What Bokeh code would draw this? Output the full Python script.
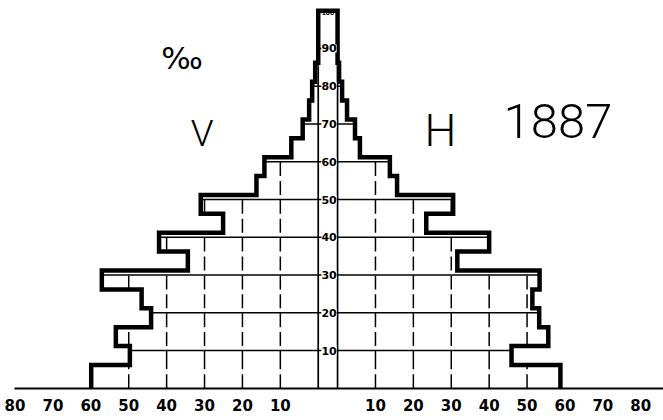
from bokeh.plotting import figure
from bokeh.models import Range1d, FixedTicker, CustomJSTickFormatter
from bokeh.core.properties import value
from bokeh.embed import file_html
from bokeh.resources import INLINE

# ---- data (per mille of population, 5-year age groups) ----
age_lo = [0, 5, 10, 15, 20, 25, 30, 35, 40, 45, 50, 55, 60, 65, 70, 75, 80, 85]
age_hi = [5, 10, 15, 20, 25, 30, 35, 40, 45, 50, 55, 60, 65, 70, 75, 80, 85, 100]
per_mille_V = [59.9, 49.7, 53.4, 44.1, 46.6, 57.1, 34.4, 42.0, 25.1, 31.0,
               16.3, 14.2, 7.1, 4.1, 2.4, 1.6, 0.8, 0.0]
per_mille_H = [58.8, 45.9, 55.6, 53.2, 51.4, 53.3, 31.6, 40.0, 23.4, 30.5,
               15.7, 13.8, 5.9, 4.6, 2.5, 1.2, 0.4, 0.0]
grid_ages = [10, 20, 30, 40, 50, 60, 70, 80, 90]
age_labels = ["10", "20", "30", "40", "50", "60", "70", "80", "90"]
grid_values = [10, 20, 30, 40, 50]
axis_values = [10, 20, 30, 40, 50, 60, 70, 80]

G = 2.55        # half width of the central age strip (in per-mille units)
SHIFT = 1.2     # thick outline is drawn just outside the bar tops (years)
TOP = 100

n = len(age_lo)
disp_lo = [0 if i == 0 else age_lo[i] + SHIFT for i in range(n)]
disp_hi = [TOP if i == n - 1 else age_hi[i] + SHIFT for i in range(n)]


def side_points(vals, sign):
    xs, ys = [], []
    for i, v in enumerate(vals):
        x = sign * (G + v)
        xs += [x, x]
        ys += [disp_lo[i], disp_hi[i]]
    return xs, ys


lx, ly = side_points(per_mille_V, -1)
rx, ry = side_points(per_mille_H, 1)
outline_x = lx + rx[::-1]
outline_y = ly + ry[::-1]


def bin_at(a):
    for i in range(n):
        if disp_lo[i] <= a < disp_hi[i]:
            return i
    return n - 1


# horizontal grid lines (clipped to the bars)
hx0, hx1, hy = [], [], []
for a in grid_ages:
    i = bin_at(a)
    hx0.append(-(G + per_mille_V[i]))
    hx1.append(G + per_mille_H[i])
    hy.append(a)

# vertical dashed lines (clipped to the bars)
dx, dy0, dy1 = [], [], []
for vals, sign in ((per_mille_V, -1), (per_mille_H, 1)):
    for v in grid_values:
        tops = [a for a in grid_ages if vals[bin_at(a)] > v]
        top_v = max(tops) if tops else 0
        for i in range(n):
            if vals[i] > v:
                y0, y1 = disp_lo[i], min(disp_hi[i], top_v)
                if y1 > y0:
                    dx.append(sign * (G + v))
                    dy0.append(y0)
                    dy1.append(y1)

p = figure(width=663, height=420, output_backend="svg", toolbar_location=None,
           x_range=Range1d(-82.69, 88.55), y_range=Range1d(-0.05, 102.70),
           y_axis_location=None, min_border_left=14, min_border_right=0,
           min_border_top=0, min_border_bottom=32)
p.grid.visible = False
p.outline_line_color = None
p.background_fill_color = "white"

p.segment(x0=dx, y0=dy0, x1=dx, y1=dy1, line_color="black", line_width=1.5,
          line_dash="14 5")
p.segment(x0=hx0, y0=hy, x1=hx1, y1=hy, line_color="black", line_width=1.4)
p.segment(x0=[-G, G], y0=[0, 0], x1=[-G, G], y1=[TOP, TOP], line_color="black",
          line_width=1.7)
p.line(outline_x, outline_y, line_color="black", line_width=4.5,
       line_join="miter")

# age labels in the strip
p.text(x=[0.3] * len(grid_ages), y=grid_ages, text=age_labels,
       text_align="center", text_baseline="middle", text_font=value("DejaVu Sans"),
       text_font_style="bold", text_font_size="11px", text_color="black",
       background_fill_color="white")
p.text(x=[0.0], y=[99.4], text=["100"], text_align="center", text_baseline="middle",
       text_font=value("DejaVu Sans"), text_font_style="bold", text_font_size="6px",
       text_color="black")

# titles
thin = value("Roboto Light, Lato Light, Roboto")
p.text(x=[-38.5], y=[87.6], text=["‰"], text_align="center", text_baseline="alphabetic",
       text_font=value("DejaVu Sans"), text_font_size="31px", text_color="black")
p.text(x=[-33.2], y=[67.5], text=["V"], text_align="center", text_baseline="alphabetic",
       text_font=thin, text_font_size="37px", text_color="black")
p.text(x=[29.7], y=[68.3], text=["H"], text_align="center", text_baseline="alphabetic",
       text_font=thin, text_font_size="45px", text_color="black")
p.text(x=[60.7], y=[70.9], text=["1887"], text_align="center", text_baseline="alphabetic",
       text_font=thin, text_font_size="49px", text_color="black")

ticks = [-(v + G) for v in axis_values] + [v + G for v in axis_values]
ax = p.xaxis[0]
ax.ticker = FixedTicker(ticks=ticks)
ax.formatter = CustomJSTickFormatter(code=f"return String(Math.round(Math.abs(tick) - {G}));")
ax.axis_line_width = 2
ax.axis_line_color = "black"
ax.major_tick_line_color = None
ax.minor_tick_line_color = None
ax.major_label_standoff = 4
ax.major_label_text_font = "DejaVu Sans"
ax.major_label_text_font_style = "bold"
ax.major_label_text_font_size = "15px"
ax.major_label_text_color = "black"

open("out.html", "w").write(file_html(p, INLINE))
